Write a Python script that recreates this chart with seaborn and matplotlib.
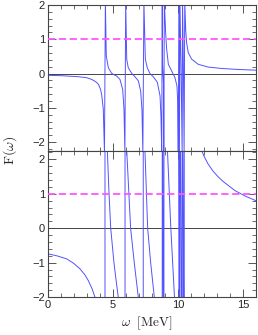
import numpy as np
import pandas as pd
import matplotlib
matplotlib.use("Agg")
import matplotlib.pyplot as plt
import seaborn as sns
from matplotlib.ticker import MultipleLocator

# F(omega) arriba: puntos (los polos se cruzan en vertical)
top_w = [0.0, 1.0, 2.35, 3.0, 3.38, 3.7, 3.89, 4.05, 4.14, 4.27, 4.36,
         4.43, 4.5, 4.66, 4.91, 5.17, 5.3, 5.55, 5.76, 5.86, 5.93,
         5.99, 6.07, 6.19, 6.45, 6.7, 6.96, 7.14, 7.24, 7.31,
         7.39, 7.5, 7.65, 7.86, 8.11, 8.42, 8.63, 8.7, 8.76,
         8.80, 8.82, 8.86, 8.90, 8.92,
         8.96, 9.06, 9.14, 9.27, 9.52, 9.78, 9.93, 9.98, 10.03,
         10.08, 10.12, 10.16, 10.25, 10.33, 10.36, 10.43, 10.48,
         10.53, 10.6, 10.67, 10.8, 11.06, 11.57, 12.34, 13.36, 14.64, 16.0]
top_F = [-0.05, -0.06, -0.09, -0.12, -0.17, -0.24, -0.31, -0.45, -0.6, -1.04, -2.3,
         2.1, 0.51, 0.17, 0.01, -0.05, -0.07, -0.17, -0.46, -1.04, -2.3,
         2.1, 0.42, 0.17, 0.01, -0.09, -0.21, -0.5, -1.04, -2.3,
         2.1, 0.42, 0.17, 0.0, -0.09, -0.25, -0.65, -1.23, -2.3,
         2.1, 0.3, 0.0, -0.3, -2.3,
         2.1, 1.2, 0.71, 0.27, 0.08, -0.12, -0.36, -0.75, -2.3,
         2.1, -2.3, 2.1, 0.0, -2.3, 2.1, 0.0, -2.3,
         2.1, 1.29, 0.9, 0.61, 0.42, 0.27, 0.19, 0.15, 0.12, 0.10]

# F(omega) abajo
bot_w = [0.0, 0.7, 1.46, 2.0, 2.48, 2.85, 3.12, 3.4, 3.63, 4.1, 4.40,
         4.40, 4.5, 4.58, 4.70, 4.84, 5.09, 5.25, 5.42, 5.7, 5.94,
         5.94, 6.0, 6.07, 6.37, 6.65, 6.96, 7.15, 7.34,
         7.34, 7.40, 7.47, 7.68, 7.91, 8.19, 8.5, 8.80,
         8.80, 8.86, 8.93,
         8.93, 9.05, 9.2, 9.46, 9.74, 9.9, 10.08,
         10.08, 10.12, 10.16, 10.16, 10.25, 10.34, 10.34, 10.42, 10.49,
         10.49, 11.3, 11.83, 12.0, 12.3, 12.7, 13.08, 13.5, 13.85, 14.4, 15.2, 16.0]
bot_F = [-0.74, -0.8, -0.89, -1.02, -1.18, -1.35, -1.52, -1.75, -2.0, -3.5, -6,
         6, 3.5, 2.26, 1.1, 0.0, -1.0, -1.5, -2.0, -3.5, -6,
         6, 3.5, 2.26, 0.0, -1.0, -2.0, -3.5, -6,
         6, 3.5, 2.26, 0.0, -1.0, -2.0, -3.5, -6,
         6, 0.0, -6,
         6, 3.5, 2.26, 0.0, -2.0, -3.5, -6,
         6, 0.0, -6, 6, 0.0, -6, 6, 0.0, -6,
         6, 3.0, 2.26, 2.1, 1.88, 1.66, 1.5, 1.35, 1.25, 1.09, 0.93, 0.8]

x_ticks = [0, 5, 10, 15]
y_ticks = [-2, -1, 0, 1, 2]
y_labels = ['\u22122', '\u22121', '0', '1', '2']

sns.set_style("ticks")
plt.rcParams['font.family'] = ['Liberation Sans', 'DejaVu Sans']
plt.rcParams['mathtext.fontset'] = 'cm'

fig = plt.figure(figsize=(2.58, 3.35), dpi=100)
ax1 = fig.add_axes([0.185, 0.55, 0.807, 0.435])
ax2 = fig.add_axes([0.185, 0.113, 0.807, 0.437])

blue = '#5252ff'
for ax, w, F, ylim in [(ax1, top_w, top_F, (-2.25, 2.0)),
                       (ax2, bot_w, bot_F, (-2.0, 2.25))]:
    df = pd.DataFrame({'w': w, 'F': F})
    sns.lineplot(data=df, x='w', y='F', sort=False, estimator=None,
                 color=blue, lw=0.7, ax=ax)
    ax.axhline(0, color='#444444', lw=0.7, zorder=1)
    ax.axhline(1, color='#ff55ff', lw=1.3, ls=(0, (4, 2)), zorder=3)
    ax.set_xlim(0, 16)
    ax.set_ylim(*ylim)
    ax.set_xticks(x_ticks)
    ax.set_yticks(y_ticks)
    ax.set_yticklabels(y_labels)
    ax.xaxis.set_minor_locator(MultipleLocator(1))
    ax.yaxis.set_minor_locator(MultipleLocator(0.2))
    ax.tick_params(which='both', direction='in', top=True, right=True,
                   color='#555555', labelsize=8, pad=2)
    ax.tick_params(which='major', length=6, width=0.7)
    ax.tick_params(which='minor', length=3, width=0.6)
    for s in ax.spines.values():
        s.set_color('#444444')
        s.set_linewidth(0.8)
    ax.set_xlabel('')
    ax.set_ylabel('')

ax1.set_xticklabels([])
ax2.set_xticklabels([str(t) for t in x_ticks])

fig.text(0.04, 0.55, r'$\mathrm{F}(\omega)$', rotation=90, ha='center',
         va='center', fontsize=10)
fig.text(0.57, 0.035, r'$\omega\ \ [\mathrm{MeV}]$', ha='center',
         va='center', fontsize=9.5)

fig.savefig('out.png', dpi=100)
